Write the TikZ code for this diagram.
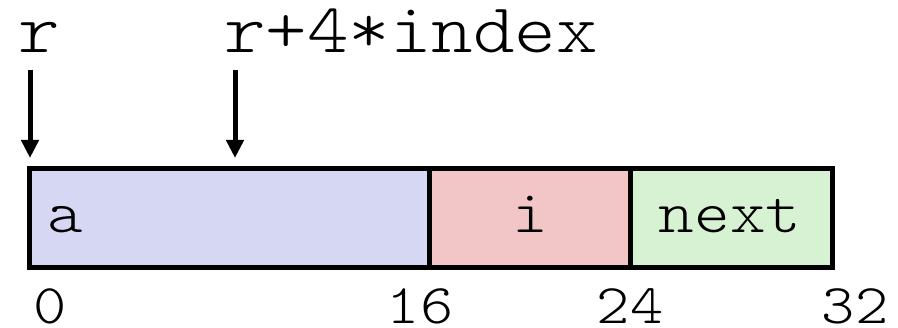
\documentclass[tikz,border=0pt]{standalone}
\usepackage{fontspec}
\newfontfamily\cour{lmmonolt10-regular}[Extension=.otf, FakeStretch=1.13]
\usetikzlibrary{arrows.meta}
\definecolor{cellA}{RGB}{214,215,243}
\definecolor{cellI}{RGB}{242,198,199}
\definecolor{cellN}{RGB}{214,242,210}
\begin{document}
\begin{tikzpicture}[x=1pt,y=1pt,
 cell/.style={draw=black, line width=5pt, minimum height=99pt, inner sep=0pt, outer sep=0pt, anchor=south west},
 toplbl/.style={font=\cour\fontsize{70}{70}\selectfont, anchor=base west, inner sep=0pt, text height=46pt, text depth=0pt},
 inlbl/.style={font=\cour\fontsize{60}{60}\selectfont, anchor=base, inner sep=0pt, text height=38pt, text depth=0pt},
 offlbl/.style={font=\cour\fontsize{56}{56}\selectfont, anchor=base, inner sep=0pt, text height=36pt, text depth=0pt},
 ptr/.style={line width=5pt, -{Triangle[width=17pt,length=18pt]}}]
\useasboundingbox (0,0) rectangle (898,328);
\node[cell, fill=cellA, minimum width=400pt] (a) at (29,60) {};
\node[cell, fill=cellI, minimum width=201pt] (i) at (429,60) {};
\node[cell, fill=cellN, minimum width=202pt] (n) at (630,60) {};
\node[inlbl, anchor=base west] (ta) at (47,95) {a};
\node[inlbl] (ti) at (530,95) {i};
\node[inlbl] (tn) at (730,95) {next};
\node[toplbl] (r) at (18,275) {r};
\node[toplbl] (ri) at (224,275) {r+4*index};
\draw[ptr] ([xshift=1pt,yshift=-17pt]r.base -| a.north west) -- ([xshift=1pt,yshift=11pt]a.north west);
\draw[ptr] ([xshift=206pt,yshift=-17pt]r.base -| a.north west) -- ([xshift=206pt,yshift=11pt]a.north west);
\node[offlbl] (o0) at (50,4) {0};
\node[offlbl] (o16) at (420,4) {16};
\node[offlbl] (o24) at (630,4) {24};
\node[offlbl] (o32) at (855,4) {32};
\end{tikzpicture}
\end{document}
